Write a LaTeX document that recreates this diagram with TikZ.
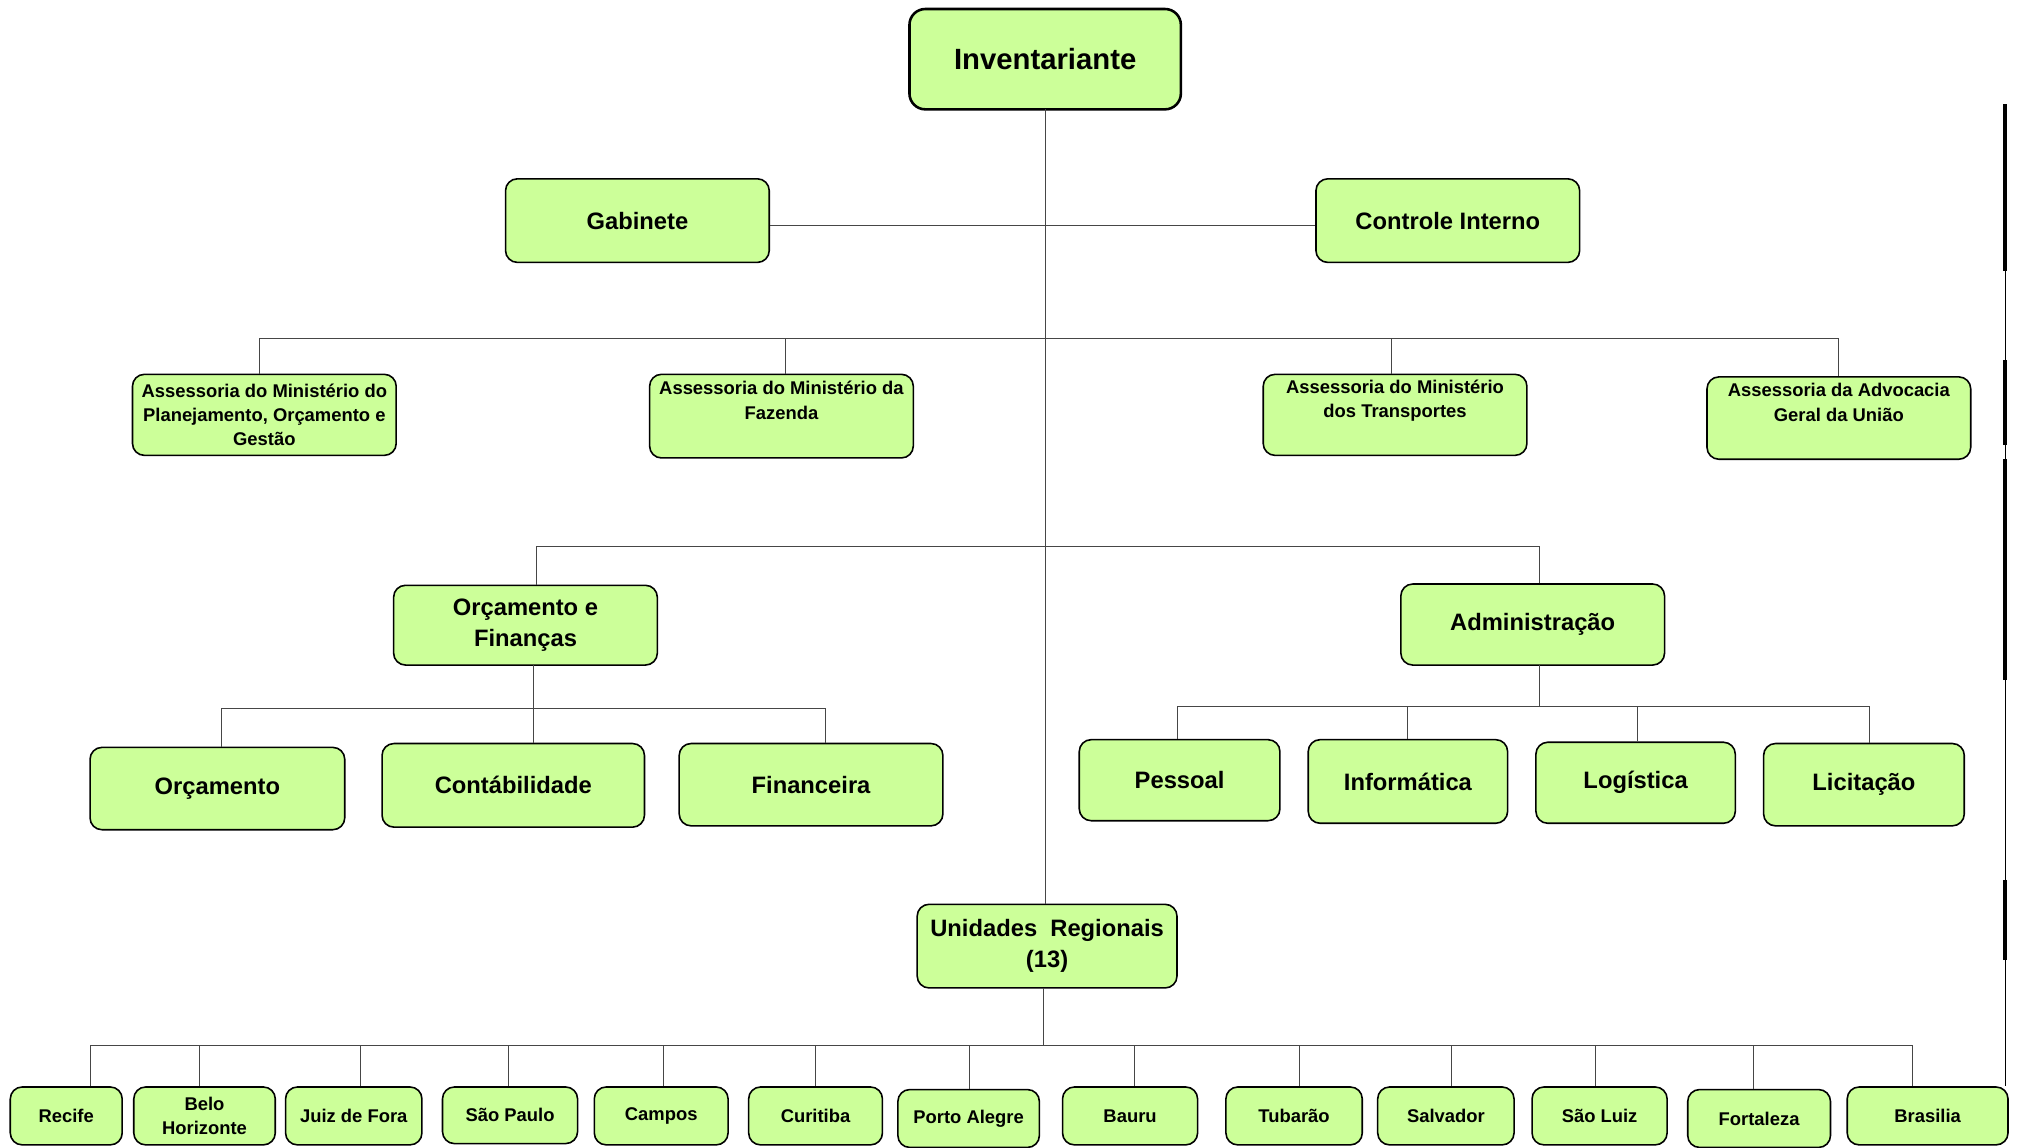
\documentclass[tikz,border=0pt]{standalone}
\usepackage{fontspec}
\setmainfont{Liberation Sans}
\newcommand\FBig{\fontsize{14.8pt}{18pt}\selectfont\bfseries}
\newcommand\FMid{\fontsize{12pt}{15.6pt}\selectfont\bfseries}
\newcommand\FSm{\fontsize{9.3pt}{12.35pt}\selectfont\bfseries}
\definecolor{boxgreen}{RGB}{204,255,153}
\definecolor{conncol}{RGB}{70,70,70}
\begin{document}
\begin{tikzpicture}[x=0.65pt,y=-0.65pt,
  box/.style={draw=black, fill=boxgreen, rounded corners=6pt, line width=0.8pt,
    align=center, inner sep=0pt, text=black},
  sz/.style 2 args={minimum width=#1*0.65pt, minimum height=#2*0.65pt},
  mid/.style={box, font=\FMid},
  sm/.style={box, font=\FSm},
  conn/.style={draw=conncol, line width=0.5pt},
  edgeline/.style={draw=black, line width=0.5pt},
  edgethick/.style={draw=black, line width=2pt}]
\useasboundingbox (0,0) rectangle (1568,892);

% top
\node[box, sz={211}{78}, line width=1.3pt, rounded corners=8pt, font=\FBig] (inv) at (812.5,46) {Inventariante};
\node[mid, sz={205}{65}] (gab) at (495.5,171.5) {Gabinete};
\node[mid, sz={205}{65}] (ci) at (1125.5,171.5) {Controle Interno};

% assessorias
\node[sm, sz={205}{63}] (a1) at (205.5,322.5) {Assessoria do Ministério do\\Planejamento, Orçamento e\\Gestão};
\node[sm, sz={205}{65}] (a2) at (607.5,323.5) {Assessoria do Ministério da\\Fazenda\\\strut};
\node[sm, sz={205}{63}] (a3) at (1084.5,322.5) {Assessoria do Ministério\\dos Transportes\\\strut};
\node[sm, sz={205}{64}] (a4) at (1429.5,325) {Assessoria da Advocacia\\Geral da União\\\strut};

% level 4
\node[mid, sz={205}{62}] (of) at (408.5,486) {Orçamento e\\Finanças};
\node[mid, sz={205}{63}] (adm) at (1191.5,485.5) {Administração};

\node[mid, sz={198}{64}] (orc) at (169,613) {Orçamento};
\node[mid, sz={204}{65}] (cont) at (399,610.5) {Contábilidade};
\node[mid, sz={205}{64}] (fin) at (630.5,610) {Financeira};

\node[mid, sz={156}{63}] (pes) at (917,606.5) {Pessoal};
\node[mid, sz={155}{65}] (inf) at (1094.5,607.5) {Informática};
\node[mid, sz={155}{63}] (log) at (1271.5,608.5) {Logística};
\node[mid, sz={156}{64}] (lic) at (1449,610) {Licitação};

% regional
\node[mid, sz={202}{65}] (ur) at (814,735.5) {Unidades~\ Regionais\\(13)};

\node[sm, sz={87}{45}] (rec) at (51.5,867.5) {Recife};
\node[sm, sz={110}{45}] (bh) at (159,867.5) {Belo\\Horizonte};
\node[sm, sz={106}{45}] (jf) at (275,867.5) {Juiz de Fora};
\node[sm, sz={105}{44}] (sp) at (396.5,867) {São Paulo};
\node[sm, sz={104}{45}] (cam) at (514,867.5) {Campos};
\node[sm, sz={104}{45}] (cur) at (634,867.5) {Curitiba};
\node[sm, sz={110}{45}] (pa) at (753,869.5) {Porto Alegre};
\node[sm, sz={105}{45}] (bau) at (878.5,867.5) {Bauru};
\node[sm, sz={106}{45}] (tub) at (1006,867.5) {Tubarão};
\node[sm, sz={106}{45}] (sal) at (1124,867.5) {Salvador};
\node[sm, sz={105}{45}] (sl) at (1243.5,867.5) {São Luiz};
\node[sm, sz={111}{45}] (fort) at (1367.5,869.5) {Fortaleza};
\node[sm, sz={125}{45}] (bra) at (1498.5,867.5) {Brasilia};

% junction coordinates
\coordinate (spine) at (813,85);
\coordinate (gcline) at (813,175);
\coordinate (j1) at (202,263);
\coordinate (j2) at (611,263);
\coordinate (j3) at (1082,263);
\coordinate (j4) at (1429,263);
\coordinate (k1) at (417,425);
\coordinate (k2) at (1197,425);
\coordinate (of0) at (415,517);
\coordinate (ofl) at (172,551);
\coordinate (ofr) at (642,551);
\coordinate (ad0) at (1197,517);
\coordinate (ad1) at (915,549);
\coordinate (ad2) at (1094,549);
\coordinate (ad3) at (1273,549);
\coordinate (ad4) at (1453,549);
\coordinate (ur0) at (811,768);
\coordinate (u1) at (70,813);
\coordinate (u2) at (155,813);
\coordinate (u3) at (280,813);
\coordinate (u4) at (395,813);
\coordinate (u5) at (516,813);
\coordinate (u6) at (634,813);
\coordinate (u7) at (754,813);
\coordinate (u8) at (882,813);
\coordinate (u9) at (1010,813);
\coordinate (u10) at (1128,813);
\coordinate (u11) at (1240,813);
\coordinate (u12) at (1363,813);
\coordinate (u13) at (1487,813);

% connectors
\draw[conn] (spine) -- (spine |- ur.north);
\draw[conn] (gab.east |- gcline) -- (ci.west |- gcline);
\draw[conn] (j1 |- a1.north) -- (j1) -- (j4) -- (j4 |- a4.north);
\draw[conn] (j2) -- (j2 |- a2.north);
\draw[conn] (j3) -- (j3 |- a3.north);
\draw[conn] (k1 |- of.north) -- (k1) -- (k2) -- (k2 |- adm.north);
\draw[conn] (of0) -- (of0 |- cont.north);
\draw[conn] (ofl |- orc.north) -- (ofl) -- (ofr) -- (ofr |- fin.north);
\draw[conn] (ad0) -- (ad0 |- ad1);
\draw[conn] (ad1 |- pes.north) -- (ad1) -- (ad4) -- (ad4 |- lic.north);
\draw[conn] (ad2) -- (ad2 |- inf.north);
\draw[conn] (ad3) -- (ad3 |- log.north);
\draw[conn] (ur0) -- (ur0 |- u1);
\draw[conn] (u1 |- rec.north) -- (u1) -- (u13) -- (u13 |- bra.north);
\draw[conn] (u2) -- (u2 |- bh.north);
\draw[conn] (u3) -- (u3 |- jf.north);
\draw[conn] (u4) -- (u4 |- sp.north);
\draw[conn] (u5) -- (u5 |- cam.north);
\draw[conn] (u6) -- (u6 |- cur.north);
\draw[conn] (u7) -- (u7 |- pa.north);
\draw[conn] (u8) -- (u8 |- bau.north);
\draw[conn] (u9) -- (u9 |- tub.north);
\draw[conn] (u10) -- (u10 |- sal.north);
\draw[conn] (u11) -- (u11 |- sl.north);
\draw[conn] (u12) -- (u12 |- fort.north);

% right edge rule
\coordinate (r0) at (1558.7,81);
\coordinate (r1) at (1558.7,211);
\coordinate (r2) at (1558.7,280);
\coordinate (r3) at (1558.7,346);
\coordinate (r4) at (1558.7,357);
\coordinate (r5) at (1558.7,529);
\coordinate (r6) at (1558.7,684);
\coordinate (r7) at (1558.7,746);
\draw[edgeline] (r0) -- (r0 |- bra.north);
\draw[edgethick] (r0) -- (r1);
\draw[edgethick] (r2) -- (r3);
\draw[edgethick] (r4) -- (r5);
\draw[edgethick] (r6) -- (r7);
\end{tikzpicture}
\end{document}
